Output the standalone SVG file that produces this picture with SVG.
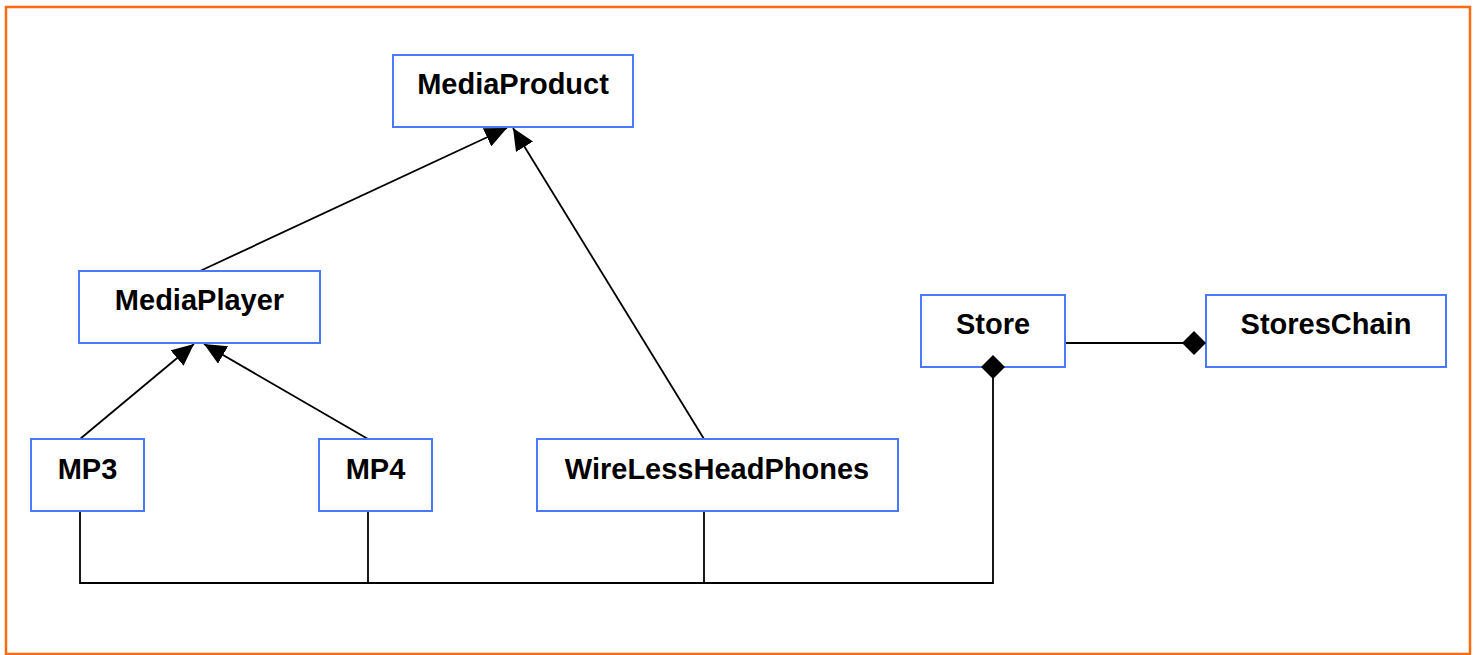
<svg xmlns="http://www.w3.org/2000/svg" width="1477" height="655" viewBox="0 0 1477 655">
  <style>
    .frame { fill: #ffffff; stroke: #ff6a0e; stroke-width: 2.5; }
    .box { fill: #ffffff; stroke: #4a78ff; stroke-width: 2; }
    .label { font-family: "Liberation Sans", Arial, sans-serif; font-weight: bold; font-size: 29px; fill: #000000; text-anchor: middle; }
    .edge { fill: none; stroke: #000000; stroke-width: 1.8; }
    .diamond { fill: #000000; stroke: none; }
  </style>
  <defs>
    <marker id="arrow" viewBox="0 0 22 20" refX="22" refY="10" markerWidth="22" markerHeight="20" markerUnits="userSpaceOnUse" orient="auto">
      <path d="M0,0 L22,10 L0,20 Z" fill="#000000"/>
    </marker>
  </defs>

  <!-- outer frame -->
  <rect class="frame" x="6" y="7" width="1464" height="647"/>

  <!-- connectors -->
  <g id="connectors">
    <!-- generalisation -->
    <line class="edge" x1="200" y1="271" x2="507" y2="128" marker-end="url(#arrow)"/>
    <line class="edge" x1="704" y1="439" x2="513" y2="128" marker-end="url(#arrow)"/>
    <line class="edge" x1="80" y1="439" x2="194" y2="344" marker-end="url(#arrow)"/>
    <line class="edge" x1="368" y1="439" x2="204" y2="344" marker-end="url(#arrow)"/>
    <!-- composition: products in store -->
    <polyline class="edge" points="80,511 80,583 993,583 993,378"/>
    <line class="edge" x1="368" y1="511" x2="368" y2="583"/>
    <line class="edge" x1="704" y1="511" x2="704" y2="583"/>
    <!-- composition: store in chain -->
    <line class="edge" x1="1065" y1="343" x2="1183" y2="343"/>
  </g>

  <g id="MediaProduct">
    <rect class="box" x="393" y="55" width="240" height="72"/>
    <text class="label" x="513" y="94">MediaProduct</text>
  </g>
  <g id="MediaPlayer">
    <rect class="box" x="79" y="271" width="241" height="72"/>
    <text class="label" x="199.5" y="310">MediaPlayer</text>
  </g>
  <g id="MP3">
    <rect class="box" x="31" y="439" width="113" height="72"/>
    <text class="label" x="87.5" y="479">MP3</text>
  </g>
  <g id="MP4">
    <rect class="box" x="319" y="439" width="113" height="72"/>
    <text class="label" x="375.5" y="479">MP4</text>
  </g>
  <g id="WireLessHeadPhones">
    <rect class="box" x="537" y="439" width="361" height="72"/>
    <text class="label" x="717" y="479">WireLessHeadPhones</text>
  </g>
  <g id="Store">
    <rect class="box" x="921" y="295" width="144" height="72"/>
    <text class="label" x="993" y="334">Store</text>
    <path class="diamond" d="M993,355 L1005,367 L993,379 L981,367 Z"/>
  </g>
  <g id="StoresChain">
    <rect class="box" x="1206" y="295" width="240" height="72"/>
    <text class="label" x="1326" y="334">StoresChain</text>
    <path class="diamond" d="M1182,343 L1194,331 L1206,343 L1194,355 Z"/>
  </g>
</svg>
